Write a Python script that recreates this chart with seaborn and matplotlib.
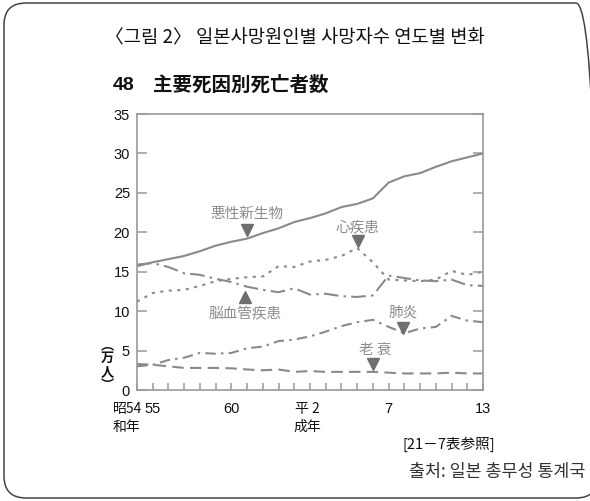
import numpy as np
import pandas as pd
import matplotlib
matplotlib.use("Agg")
import matplotlib.pyplot as plt
from matplotlib.patches import FancyBboxPatch
from matplotlib.transforms import blended_transform_factory
import seaborn as sns

# ---- data (unit: 10,000 persons) ----
years = list(range(1979, 2002))
cancer = [15.7, 16.2, 16.6, 17.0, 17.6, 18.3, 18.8, 19.2, 19.9, 20.5, 21.3, 21.8,
          22.4, 23.2, 23.6, 24.3, 26.3, 27.1, 27.5, 28.3, 29.0, 29.5, 30.0]
heart = [11.2, 12.3, 12.6, 12.7, 13.2, 13.8, 14.1, 14.3, 14.4, 15.7, 15.6, 16.3,
         16.5, 17.0, 18.0, 16.2, 14.0, 13.9, 13.8, 14.0, 15.1, 14.6, 15.0]
cerebro = [15.9, 16.1, 15.6, 14.8, 14.6, 14.1, 13.7, 13.1, 12.7, 12.4, 12.9, 12.1,
           12.2, 11.9, 11.8, 12.0, 14.5, 14.2, 13.9, 13.8, 14.0, 13.3, 13.2]
pneumonia = [3.0, 3.2, 3.8, 4.1, 4.7, 4.6, 4.7, 5.3, 5.5, 6.2, 6.4, 6.8,
             7.4, 8.1, 8.6, 8.9, 8.0, 7.2, 7.8, 8.0, 9.4, 8.8, 8.6]
senility = [3.3, 3.2, 3.0, 2.8, 2.8, 2.8, 2.75, 2.6, 2.5, 2.6, 2.3, 2.4,
            2.3, 2.3, 2.3, 2.3, 2.2, 2.1, 2.1, 2.1, 2.2, 2.1, 2.1]

series_names = ["悪性新生物", "心疾患", "脳血管疾患", "肺炎", "老衰"]
series_values = [cancer, heart, cerebro, pneumonia, senility]

tick_years = [1980, 1985, 1995, 2001]
tick_texts = ["55", "60", "7", "13"]

title = "〈그림 2〉 일본사망원인별 사망자수 연도별 변화"
chart_no = "48"
subtitle = "主要死因別死亡者数"
source = "출처: 일본 총무성 통계국"

sns.set_theme(style="white")
plt.rcParams["font.family"] = ["Noto Sans CJK JP", "DejaVu Sans"]

num_font = ["Liberation Sans Narrow", "Liberation Sans", "DejaVu Sans"]

df = pd.DataFrame({
    "year": np.tile(years, len(series_names)),
    "value": np.concatenate(series_values),
    "cause": np.repeat(series_names, len(years)),
})

W, H = 590, 501
fig = plt.figure(figsize=(W / 100, H / 100), dpi=100)
ax = fig.add_axes([137 / W, 1 - 390 / H, 346 / W, 276 / H])

line_color = "#8a8a8a"
dash_map = {
    "悪性新生物": None,
    "心疾患": (1.5, 2.6),
    "脳血管疾患": (7, 2.5, 1.2, 2.5),
    "肺炎": (5, 2.5, 1.2, 2.5),
    "老衰": (5.5, 3),
}
for name in series_names:
    sub = df[df["cause"] == name]
    sns.lineplot(data=sub, x="year", y="value", ax=ax, color=line_color,
                 linewidth=1.5, legend=False)
    ln = ax.lines[-1]
    if dash_map[name] is not None:
        ln.set_dashes(dash_map[name])

ax.set_xlim(1979, 2001)
ax.set_ylim(0, 35)
ax.set_xlabel("")
ax.set_ylabel("")

for sp in ax.spines.values():
    sp.set_color("#9a9a9a")
    sp.set_linewidth(1.2)

# y ticks on both sides, pointing inward
ax.set_yticks(range(0, 36, 5))
ax.tick_params(axis="y", direction="in", length=7, width=1.1, color="#9a9a9a",
               left=True, right=True, labelsize=10.5, pad=5, labelcolor="#111")
for lbl in ax.get_yticklabels():
    lbl.set_family(num_font)

# yearly ticks along the bottom
ax.set_xticks(years)
ax.tick_params(axis="x", direction="in", length=5, width=1.1, color="#9a9a9a",
               bottom=True, labelbottom=False)

trans = blended_transform_factory(ax.transData, fig.transFigure)
y1 = 1 - 409 / H
y2 = 1 - 427 / H
ax.text(1977.45, y1, "昭54", transform=trans, ha="left", va="center",
        fontsize=10, color="#111", family=["Noto Sans CJK JP"])
ax.text(1977.45, y2, "和年", transform=trans, ha="left", va="center",
        fontsize=10, color="#111", family=["Noto Sans CJK JP"])
for yr, t in zip(tick_years, tick_texts):
    ax.text(yr, y1, t, transform=trans, ha="center", va="center",
            fontsize=10.5, color="#111", family=num_font)
ax.text(1989.85, y1, "平 2", transform=trans, ha="center", va="center",
        fontsize=10, color="#111", family=["Noto Sans CJK JP"])
ax.text(1989.85, y2, "成年", transform=trans, ha="center", va="center",
        fontsize=10, color="#111", family=["Noto Sans CJK JP"])

fig.text(495 / W, 1 - 444 / H, "[21－7表参照]", ha="right", va="center",
         fontsize=10.5, color="#111")

# vertical unit label
fig.text(107 / W, 1 - 365 / H, "︵\n万\n人\n︶", ha="center", va="center",
         fontsize=9.5, color="#111", fontweight="bold", linespacing=0.95)

# series annotations with pointer triangles
ann_color = "#8c8c8c"
tri_color = "#6f6f6f"
annotations = [
    ("悪性新生物", 247, 214, 247, 230, "v"),
    ("心疾患", 358, 227, 358, 241, "v"),
    ("脳血管疾患", 245, 313, 245, 297, "^"),
    ("肺炎", 403, 313, 403, 328, "v"),
    ("老 衰", 375, 350, 373, 364, "v"),
]
for txt, px, ty, mx, my, mk in annotations:
    fig.text(px / W, 1 - ty / H, txt, ha="center", va="center",
             fontsize=10.5, color=ann_color)
    fig.lines.append(plt.Line2D([mx / W], [1 - my / H],
                                transform=fig.transFigure, marker=mk,
                                markersize=9, color=tri_color,
                                linestyle="none"))

# headings
fig.text(0.5, 1 - 38 / H, title, ha="center", va="center", fontsize=13.5,
         color="#111", family=["Noto Sans CJK KR", "DejaVu Sans"])
fig.text(113 / W, 1 - 85 / H, chart_no, ha="left", va="center",
         fontsize=14, color="#111", family=num_font, fontweight="bold")
fig.text(153 / W, 1 - 85 / H, subtitle, ha="left", va="center",
         fontsize=14, color="#111", fontweight="bold")
fig.text(585 / W, 1 - 472 / H, source, ha="right", va="center",
         fontsize=12.5, color="#333",
         family=["Noto Sans CJK KR", "DejaVu Sans"])

# rounded frame, drawn in inches so the corners stay circular;
# its right side runs just past the canvas edge
frame = FancyBboxPatch((0.04, 0.03), 5.94, 4.95,
                       boxstyle="round,pad=0,rounding_size=0.22",
                       transform=fig.dpi_scale_trans, fill=False,
                       edgecolor="#444", linewidth=1.1)
fig.patches.append(frame)

fig.savefig("out.png", dpi=100)
